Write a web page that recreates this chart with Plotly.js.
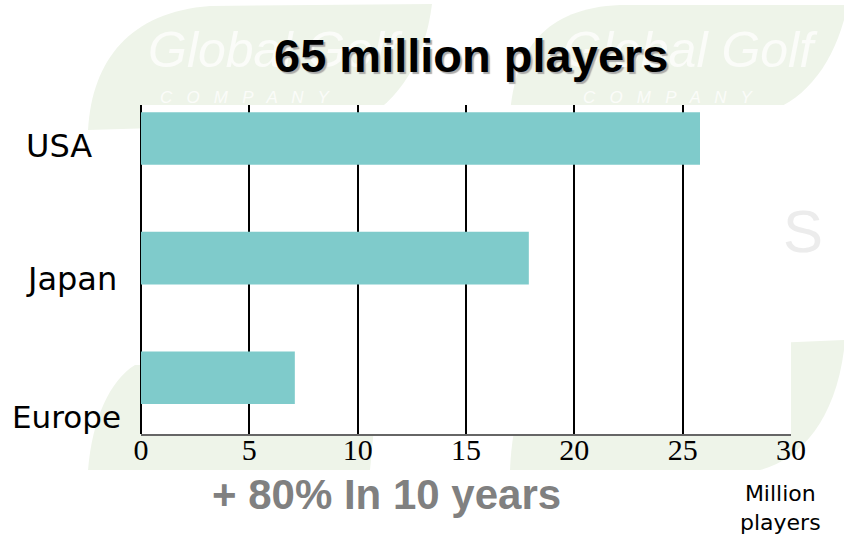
<!DOCTYPE html>
<html>
<head>
<meta charset="utf-8">
<script src="https://cdn.plot.ly/plotly-3.0.1.min.js"></script>
<style>html,body{margin:0;padding:0;background:#fff;}#chart{width:844px;height:538px;}</style>
</head>
<body>
<div id="chart"></div>
<script>
// ---- data ----
const regions = ['USA', 'Japan', 'Europe'];
const playersMillions = [25.8, 17.9, 7.1];
const xTicks = [0, 5, 10, 15, 20, 25, 30];
const titleText = '65 million players';
const subtitleText = '+ 80% In 10 years';
const unitText = 'Million<br>players';

// ---- layout helpers (pixel -> paper) ----
const W = 844, H = 538, L = 141, R = 791, T = 105, B = 434;
const px = x => (x - L) / (R - L);
const py = y => (B - y) / (B - T);
function pathPx(pts) {
  return pts.map(p => typeof p === 'string' ? p : px(p[0]).toFixed(4) + ',' + py(p[1]).toFixed(4)).join(' ');
}

const leafColor = '#eef4e9';
const shapes = [
  {type:'path', xref:'paper', yref:'paper', layer:'below', line:{width:0}, fillcolor:leafColor,
   path: pathPx(['M',[88,130],'C',[92,60],[130,12],[210,6],'L',[432,4],'C',[425,60],[400,100],[360,122],'Z'])},
  {type:'path', xref:'paper', yref:'paper', layer:'below', line:{width:0}, fillcolor:leafColor,
   path: pathPx(['M',[510,114],'C',[515,50],[545,8],[620,5],'L',[844,5],'L',[844,20],'C',[830,70],[800,105],[760,114],'Z'])},
  {type:'path', xref:'paper', yref:'paper', layer:'below', line:{width:0}, fillcolor:leafColor,
   path: pathPx(['M',[88,470],'C',[92,420],[110,380],[135,365],'L',[380,365],'L',[370,470],'Z'])},
  {type:'path', xref:'paper', yref:'paper', layer:'below', line:{width:0}, fillcolor:leafColor,
   path: pathPx(['M',[510,470],'C',[512,420],[525,370],[560,352],'L',[844,340],'L',[844,350],'C',[835,420],[800,460],[760,470],'Z'])},
  // plot area is white over the watermark
  {type:'rect', xref:'paper', yref:'paper', layer:'below', line:{width:0}, fillcolor:'#ffffff',
   x0:0, x1:1, y0:0, y1:1}
];

const labelX = {USA:24, Japan:24, Europe:10};
const labelShift = {USA:-7, Japan:-21, Europe:-39};

const annotations = [
  // watermark texts
  {xref:'paper', yref:'paper', x:px(275), y:py(50), xanchor:'center', yanchor:'middle', text:'Global Golf', showarrow:false,
   font:{family:'Liberation Sans', size:50, color:'#fbfcf9', style:'italic'}},
  {xref:'paper', yref:'paper', x:px(690), y:py(50), xanchor:'center', yanchor:'middle', text:'Global Golf', showarrow:false,
   font:{family:'Liberation Sans', size:50, color:'#fbfcf9', style:'italic'}},
  {xref:'paper', yref:'paper', x:px(245), y:py(97), xanchor:'center', yanchor:'middle', text:'C   O   M   P   A   N   Y', showarrow:false,
   font:{family:'Liberation Sans', size:17, color:'#fbfcf9', style:'italic'}},
  {xref:'paper', yref:'paper', x:px(668), y:py(97), xanchor:'center', yanchor:'middle', text:'C   O   M   P   A   N   Y', showarrow:false,
   font:{family:'Liberation Sans', size:17, color:'#fbfcf9', style:'italic'}},
  {xref:'paper', yref:'paper', x:px(803), y:py(231), xanchor:'center', yanchor:'middle', text:'S', showarrow:false,
   font:{family:'Liberation Sans', size:60, color:'#ececec'}},
  // category labels
  ...regions.map(r => ({
    xref:'paper', yref:'y', x:px(labelX[r]), y:r, xanchor:'left', yanchor:'middle',
    yshift: labelShift[r], text:r, showarrow:false,
    font:{family:'DejaVu Sans', size:r === 'Europe' ? 31 : 32, color:'#000'}
  })),
  // subtitle
  {xref:'paper', yref:'paper', x:px(386), y:py(494), xanchor:'center', yanchor:'middle', text:'<b>' + subtitleText + '</b>', showarrow:false,
   font:{family:'Liberation Sans', size:42, color:'#808080'}},
  // unit
  {xref:'paper', yref:'paper', x:px(780), y:py(508), xanchor:'center', yanchor:'middle', text:unitText, showarrow:false,
   font:{family:'DejaVu Sans', size:22, color:'#000'}},
  // title (drawn last so it sits above the watermark)
  {xref:'paper', yref:'paper', x:px(471), y:py(55), xanchor:'center', yanchor:'middle', text:'<b>' + titleText + '</b>', showarrow:false,
   font:{family:'Liberation Sans', size:47, color:'#000', shadow:'2px 2px 1px #aaaaaa'}}
];

const trace = {
  type:'bar', orientation:'h',
  y: regions, x: playersMillions,
  width: 0.44,
  marker:{color:'#7fcbcb', line:{width:0}},
  hoverinfo:'x+y'
};

const layout = {
  width:W, height:H,
  margin:{l:L, r:W-R, t:T, b:H-B, pad:0},
  paper_bgcolor:'#ffffff', plot_bgcolor:'rgba(0,0,0,0)',
  showlegend:false,
  xaxis:{range:[0,30], tickvals:xTicks, ticktext:xTicks.map(String),
         showgrid:true, gridcolor:'#000', gridwidth:2,
         zeroline:true, zerolinecolor:'#000', zerolinewidth:2,
         showline:true, linecolor:'#666', linewidth:2,
         ticks:'', ticklabelstandoff:-12,
         tickfont:{family:'Liberation Serif', size:30, color:'#000'}},
  yaxis:{type:'category', categoryorder:'array', categoryarray:regions.slice().reverse(),
         range:[-0.47, 2.28], autorange:false, showticklabels:false, showgrid:false,
         zeroline:false, showline:false, ticks:''},
  shapes: shapes,
  annotations: annotations
};

Plotly.newPlot('chart', [trace], layout, {displayModeBar:false, staticPlot:true});
</script>
</body>
</html>
